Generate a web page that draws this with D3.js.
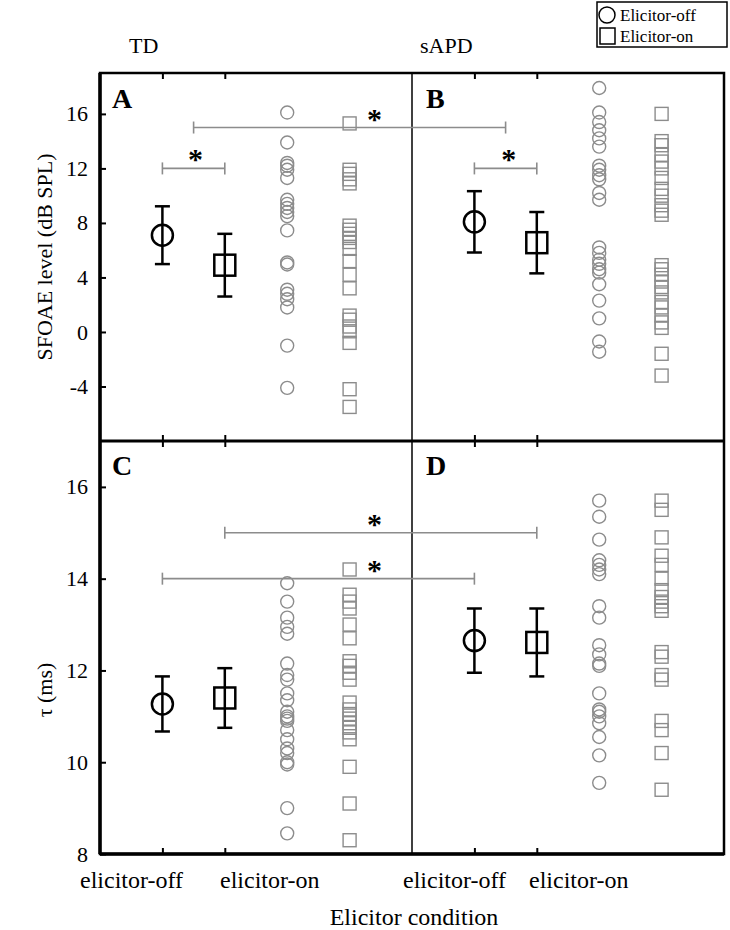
<!DOCTYPE html>
<html>

<head>
    <meta charset="utf-8">
    <title>SFOAE level and tau by elicitor condition</title>
    <script src="https://d3js.org/d3.v7.min.js"></script>
    <style>
        body {
            margin: 0;
            background: #fff;
        }

        text {
            font-family: "Liberation Serif", "Times New Roman", serif;
            fill: #000;
        }

        .tick line {
            stroke: #000;
            stroke-width: 2;
        }

        .tick text {
            font-size: 22px;
            font-family: "Liberation Serif", "Times New Roman", serif;
        }
    </style>
</head>

<body>
    <svg width="730" height="930"></svg>
    <script>
        // Groups and conditions
        var groups = ["TD", "sAPD"];
        var conditions = ["elicitor-off", "elicitor-on"];

        // SFOAE level (dB SPL), individual subjects
        var tdOffSfoae = [16.1, 13.9, 12.4, 12.2, 11.9, 11.3, 9.7, 9.4, 9.1, 8.8, 8.5, 7.45, 5.1, 4.95, 3.1, 2.8, 2.4, 1.8, -1.0, -4.1];
        var tdOnSfoae = [15.3, 11.9, 11.6, 11.2, 10.9, 7.8, 7.5, 7.2, 6.9, 6.6, 6.1, 5.2, 4.2, 3.2, 1.2, 0.9, 0.4, 0.05, -0.8, -4.2, -5.5];
        var apdOffSfoae = [17.9, 16.1, 15.4, 14.8, 14.2, 13.6, 12.2, 11.9, 11.5, 11.2, 10.2, 9.7, 6.2, 5.8, 5.3, 5.0, 4.6, 4.35, 3.5, 2.3, 1.0, -0.7, -1.45];
        var apdOnSfoae = [16.0, 14.0, 13.7, 13.0, 12.5, 12.0, 11.3, 10.5, 10.0, 9.3, 8.9, 8.6, 4.9, 4.6, 4.2, 3.7, 3.3, 2.9, 2.2, 1.8, 1.2, 0.7, 0.3, -1.6, -3.2];

        // tau (ms), individual subjects
        var tdOffTau = [13.9, 13.5, 13.15, 12.95, 12.8, 12.15, 11.9, 11.8, 11.5, 11.35, 11.1, 11.0, 10.95, 10.9, 10.7, 10.5, 10.3, 10.2, 10.0, 9.95, 9.0, 8.45];
        var tdOnTau = [14.2, 13.65, 13.5, 13.35, 13.0, 12.7, 12.2, 12.1, 11.95, 11.8, 11.3, 11.15, 11.05, 10.95, 10.85, 10.75, 10.65, 10.5, 9.9, 9.1, 8.3];
        var apdOffTau = [15.7, 15.35, 14.85, 14.4, 14.3, 14.2, 14.1, 13.4, 13.15, 12.55, 12.35, 12.15, 12.1, 11.5, 11.15, 11.1, 11.0, 10.85, 10.55, 10.15, 9.55];
        var apdOnTau = [15.7, 15.5, 14.9, 14.5, 14.3, 14.0, 13.75, 13.6, 13.5, 13.4, 13.3, 12.4, 12.3, 11.9, 11.8, 10.9, 10.7, 10.2, 9.4];

        // Means and error bars [off, on]
        var tdSfoaeMean = [7.1, 4.9];
        var tdSfoaeErr = [2.12, 2.3];
        var apdSfoaeMean = [8.08, 6.55];
        var apdSfoaeErr = [2.25, 2.25];
        var tdTauMean = [11.27, 11.4];
        var tdTauErr = [0.6, 0.65];
        var apdTauMean = [12.65, 12.61];
        var apdTauErr = [0.7, 0.74];

        // Tick labels
        var sfoaeTicks = [-4, 0, 4, 8, 12, 16];
        var tauTicks = [8, 10, 12, 14, 16];

        var svg = d3.select("svg");
        var grey = "#8c8c8c";

        // Layout
        var left = 100, mid = 412, right = 724;
        var yTop = 73, split = 441, yBottom = 854;

        // x scales: one per group column, markers at 1..4
        var xScales = [
            d3.scaleLinear().domain([0, 5]).range([left, mid]),
            d3.scaleLinear().domain([0, 5]).range([mid, right])
        ];
        function xPos(p, v) { return xScales[p](v); }

        var ySfoae = d3.scaleLinear().domain([-8, 19]).range([split, yTop]);
        var yTau = d3.scaleLinear().domain([8, 17]).range([yBottom, split]);

        // Y axes (ticks point inward, plain hyphen for negatives)
        svg.append("g")
            .attr("transform", "translate(" + left + ",0)")
            .call(d3.axisLeft(ySfoae).tickValues(sfoaeTicks).tickFormat(function (d) { return String(d); })
                .tickSizeInner(-6).tickSizeOuter(0).tickPadding(12))
            .call(function (g) { g.select(".domain").remove(); });

        svg.append("g")
            .attr("transform", "translate(" + left + ",0)")
            .call(d3.axisLeft(yTau).tickValues(tauTicks).tickFormat(function (d) { return String(d); })
                .tickSizeInner(-6).tickSizeOuter(0).tickPadding(12))
            .call(function (g) { g.select(".domain").remove(); });

        // X ticks on top and bottom of every panel
        [0, 1].forEach(function (p) {
            [yTop, split].forEach(function (yy) {
                svg.append("g")
                    .attr("transform", "translate(0," + yy + ")")
                    .call(d3.axisBottom(xScales[p]).tickValues([1, 2]).tickSizeInner(6).tickSizeOuter(0).tickFormat(""))
                    .call(function (g) { g.select(".domain").remove(); });
            });
            [split, yBottom].forEach(function (yy) {
                svg.append("g")
                    .attr("transform", "translate(0," + yy + ")")
                    .call(d3.axisTop(xScales[p]).tickValues([1, 2]).tickSizeInner(6).tickSizeOuter(0).tickFormat(""))
                    .call(function (g) { g.select(".domain").remove(); });
            });
        });

        // Frame
        svg.append("rect")
            .attr("x", left).attr("y", yTop)
            .attr("width", right - left).attr("height", yBottom - yTop)
            .attr("fill", "none").attr("stroke", "#000").attr("stroke-width", 2.5);
        svg.append("line")
            .attr("x1", left).attr("x2", left).attr("y1", yTop).attr("y2", yBottom)
            .attr("stroke", "#000").attr("stroke-width", 3.5);
        svg.append("line")
            .attr("x1", left).attr("x2", right).attr("y1", yBottom).attr("y2", yBottom)
            .attr("stroke", "#000").attr("stroke-width", 3.5);
        svg.append("line")
            .attr("x1", left).attr("x2", right).attr("y1", split).attr("y2", split)
            .attr("stroke", "#000").attr("stroke-width", 3);
        svg.append("line")
            .attr("x1", mid).attr("x2", mid).attr("y1", yTop).attr("y2", yBottom)
            .attr("stroke", "#000").attr("stroke-width", 1.5);

        // Panels
        var panels = [
            { p: 0, y: ySfoae, off: tdOffSfoae, on: tdOnSfoae, mean: tdSfoaeMean, err: tdSfoaeErr },
            { p: 1, y: ySfoae, off: apdOffSfoae, on: apdOnSfoae, mean: apdSfoaeMean, err: apdSfoaeErr },
            { p: 0, y: yTau, off: tdOffTau, on: tdOnTau, mean: tdTauMean, err: tdTauErr },
            { p: 1, y: yTau, off: apdOffTau, on: apdOnTau, mean: apdTauMean, err: apdTauErr }
        ];

        panels.forEach(function (d) {
            var x = xScales[d.p], y = d.y;
            var g = svg.append("g");

            // individual data: circles (off) in column 3, squares (on) in column 4
            g.selectAll(".ind-off")
                .data(d.off)
                .enter().append("circle")
                .attr("class", "ind-off")
                .attr("cx", x(3))
                .attr("cy", function (v) { return y(v); })
                .attr("r", 6.5)
                .attr("fill", "none").attr("stroke", grey).attr("stroke-width", 1.4);

            g.selectAll(".ind-on")
                .data(d.on)
                .enter().append("rect")
                .attr("class", "ind-on")
                .attr("x", x(4) - 6.5)
                .attr("y", function (v) { return y(v) - 6.5; })
                .attr("width", 13).attr("height", 13)
                .attr("fill", "none").attr("stroke", grey).attr("stroke-width", 1.4);

            // error bars
            var bars = d.mean.map(function (m, i) { return { i: i, m: m, e: d.err[i] }; });
            g.selectAll(".bar-v")
                .data(bars)
                .enter().append("line")
                .attr("x1", function (b) { return x(b.i + 1); })
                .attr("x2", function (b) { return x(b.i + 1); })
                .attr("y1", function (b) { return y(b.m + b.e); })
                .attr("y2", function (b) { return y(b.m - b.e); })
                .attr("stroke", "#000").attr("stroke-width", 2.5);
            [1, -1].forEach(function (s) {
                g.selectAll(null)
                    .data(bars)
                    .enter().append("line")
                    .attr("x1", function (b) { return x(b.i + 1) - 7.5; })
                    .attr("x2", function (b) { return x(b.i + 1) + 7.5; })
                    .attr("y1", function (b) { return y(b.m + s * b.e); })
                    .attr("y2", function (b) { return y(b.m + s * b.e); })
                    .attr("stroke", "#000").attr("stroke-width", 2.5);
            });

            // mean markers
            g.append("circle")
                .attr("cx", x(1)).attr("cy", y(d.mean[0])).attr("r", 10.5)
                .attr("fill", "none").attr("stroke", "#000").attr("stroke-width", 2.5);
            g.append("rect")
                .attr("x", x(2) - 10.5).attr("y", y(d.mean[1]) - 10.5)
                .attr("width", 21).attr("height", 21)
                .attr("fill", "none").attr("stroke", "#000").attr("stroke-width", 2.5);
        });

        // Significance brackets
        var brackets = [
            { p1: 0, x1: 1, p2: 0, x2: 2, v: 12, y: ySfoae, sp: 0, sx: 1.53 },
            { p1: 1, x1: 1, p2: 1, x2: 2, v: 12, y: ySfoae, sp: 1, sx: 1.55 },
            { p1: 0, x1: 1.5, p2: 1, x2: 1.5, v: 15, y: ySfoae, sp: 0, sx: 4.4 },
            { p1: 0, x1: 2, p2: 1, x2: 2, v: 15, y: yTau, sp: 0, sx: 4.4 },
            { p1: 0, x1: 1, p2: 1, x2: 1, v: 14, y: yTau, sp: 0, sx: 4.4 }
        ];

        brackets.forEach(function (b) {
            var yy = b.y(b.v);
            var xa = xPos(b.p1, b.x1), xb = xPos(b.p2, b.x2);
            svg.append("line")
                .attr("x1", xa).attr("x2", xb).attr("y1", yy).attr("y2", yy)
                .attr("stroke", grey).attr("stroke-width", 1.6);
            [xa, xb].forEach(function (xx) {
                svg.append("line")
                    .attr("x1", xx).attr("x2", xx).attr("y1", yy - 6).attr("y2", yy + 6)
                    .attr("stroke", grey).attr("stroke-width", 1.6);
            });
            svg.append("text")
                .attr("x", xPos(b.sp, b.sx))
                .attr("y", yy + 1)
                .attr("text-anchor", "middle")
                .style("font-size", "30px")
                .style("font-weight", "bold")
                .text("*");
        });

        // Panel letters
        var letters = [["A", 112, 108], ["B", 426, 108], ["C", 112, 475], ["D", 426, 475]];
        letters.forEach(function (l) {
            svg.append("text")
                .attr("x", l[1]).attr("y", l[2])
                .style("font-size", "28px").style("font-weight", "bold")
                .text(l[0]);
        });

        // Group labels
        svg.append("text").attr("x", 129).attr("y", 53).style("font-size", "22px").text(groups[0]);
        svg.append("text").attr("x", 420).attr("y", 53).style("font-size", "22px").text(groups[1]);

        // X category labels
        var catLabels = [[80, conditions[0]], [220, conditions[1]], [403, conditions[0]], [529, conditions[1]]];
        catLabels.forEach(function (c) {
            svg.append("text")
                .attr("x", c[0]).attr("y", 888)
                .style("font-size", "24px")
                .text(c[1]);
        });

        // Axis titles
        svg.append("text")
            .attr("x", (left + right) / 2 + 2).attr("y", 925)
            .attr("text-anchor", "middle")
            .style("font-size", "24px")
            .text("Elicitor condition");

        svg.append("text")
            .attr("transform", "translate(52," + (yTop + split) / 2 + ") rotate(-90)")
            .attr("text-anchor", "middle")
            .style("font-size", "22px")
            .text("SFOAE level (dB SPL)");

        svg.append("text")
            .attr("transform", "translate(52,690) rotate(-90)")
            .attr("text-anchor", "middle")
            .style("font-size", "22px")
            .text("τ (ms)");

        // Legend
        var legend = svg.append("g");
        legend.append("rect")
            .attr("x", 597).attr("y", 2).attr("width", 130).attr("height", 45)
            .attr("fill", "#fff").attr("stroke", "#000").attr("stroke-width", 1.5);
        legend.append("circle")
            .attr("cx", 607).attr("cy", 15).attr("r", 8)
            .attr("fill", "none").attr("stroke", "#000").attr("stroke-width", 1.5);
        legend.append("rect")
            .attr("x", 600).attr("y", 28).attr("width", 15).attr("height", 16)
            .attr("fill", "none").attr("stroke", "#000").attr("stroke-width", 1.5);
        legend.append("text").attr("x", 620).attr("y", 21).style("font-size", "17px").text("Elicitor-off");
        legend.append("text").attr("x", 620).attr("y", 42).style("font-size", "17px").text("Elicitor-on");
    </script>
</body>

</html>
